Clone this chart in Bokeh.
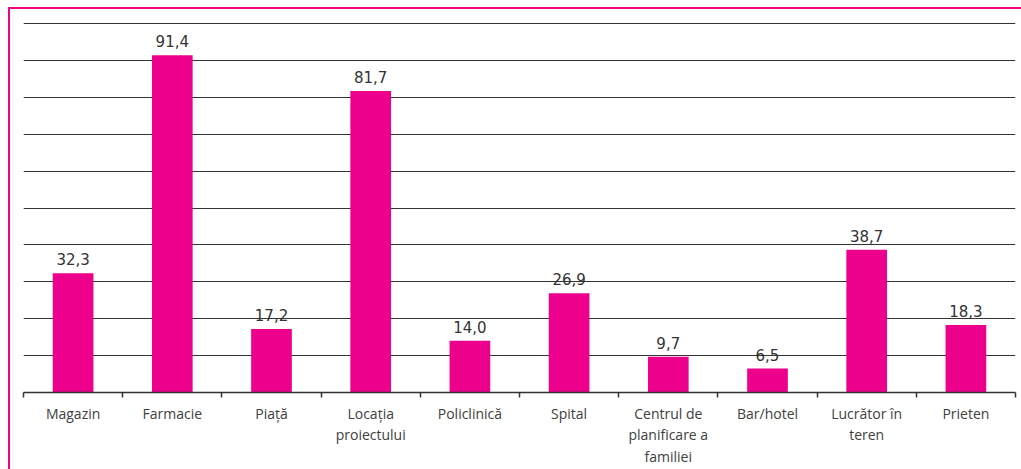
from bokeh.plotting import figure
from bokeh.models import ColumnDataSource, FixedTicker, LabelSet
from bokeh.core.properties import value
from bokeh.embed import file_html
from bokeh.resources import INLINE

categories = ["Magazin", "Farmacie", "Piață", "Locația\nproiectului", "Policlinică",
              "Spital", "Centrul de\nplanificare a\nfamiliei", "Bar/hotel",
              "Lucrător în\nteren", "Prieten"]
values = [32.3, 91.4, 17.2, 81.7, 14.0, 26.9, 9.7, 6.5, 38.7, 18.3]
y_ticks = list(range(10, 101, 10))

PINK = "#EC008C"

xs = [i + 0.5 for i in range(len(categories))]
labels = [f"{v:.1f}".replace(".", ",") for v in values]
src = ColumnDataSource(dict(x=xs, top=values, lab=labels))

p = figure(width=1021, height=469, output_backend="svg", toolbar_location=None,
           x_range=(0, len(categories)), y_range=(0, 100.3),
           min_border_left=23, min_border_right=6, min_border_top=22, min_border_bottom=75)
p.styles = {"box-shadow": f"inset 8px 7px 0 0 white, inset 10px 9px 0 0 {PINK}",
            "background": "white"}
p.outline_line_color = None
p.background_fill_color = "white"
p.border_fill_color = None

p.vbar(x="x", top="top", width=0.41, bottom=0, source=src, color=PINK, line_color=None)

p.add_layout(LabelSet(x="x", y="top", text="lab", source=src, y_offset=8,
                      text_align="center", text_baseline="alphabetic",
                      text_font=value("DejaVu Sans"), text_font_size="15px",
                      text_color="#333333"))

p.yaxis.visible = False
p.xgrid.visible = False
p.ygrid.ticker = FixedTicker(ticks=y_ticks)
p.ygrid.grid_line_color = "#333333"
p.ygrid.grid_line_width = 1

xa = p.xaxis[0]
xa.ticker = FixedTicker(ticks=xs, minor_ticks=list(range(len(categories) + 1)))
xa.major_label_overrides = {x: c for x, c in zip(xs, categories)}
xa.major_tick_line_color = None
xa.major_tick_out = 0
xa.major_tick_in = 0
xa.minor_tick_out = 5
xa.minor_tick_in = 0
xa.minor_tick_line_color = "#333333"
xa.minor_tick_line_width = 1.5
xa.axis_line_color = "#333333"
xa.axis_line_width = 1.5
xa.major_label_standoff = 6
xa.major_label_text_font = "Open Sans"
xa.major_label_text_font_size = "14px"
xa.major_label_text_color = "#404040"
xa.major_label_text_line_height = 1.15

open("out.html", "w").write(file_html(p, INLINE))
